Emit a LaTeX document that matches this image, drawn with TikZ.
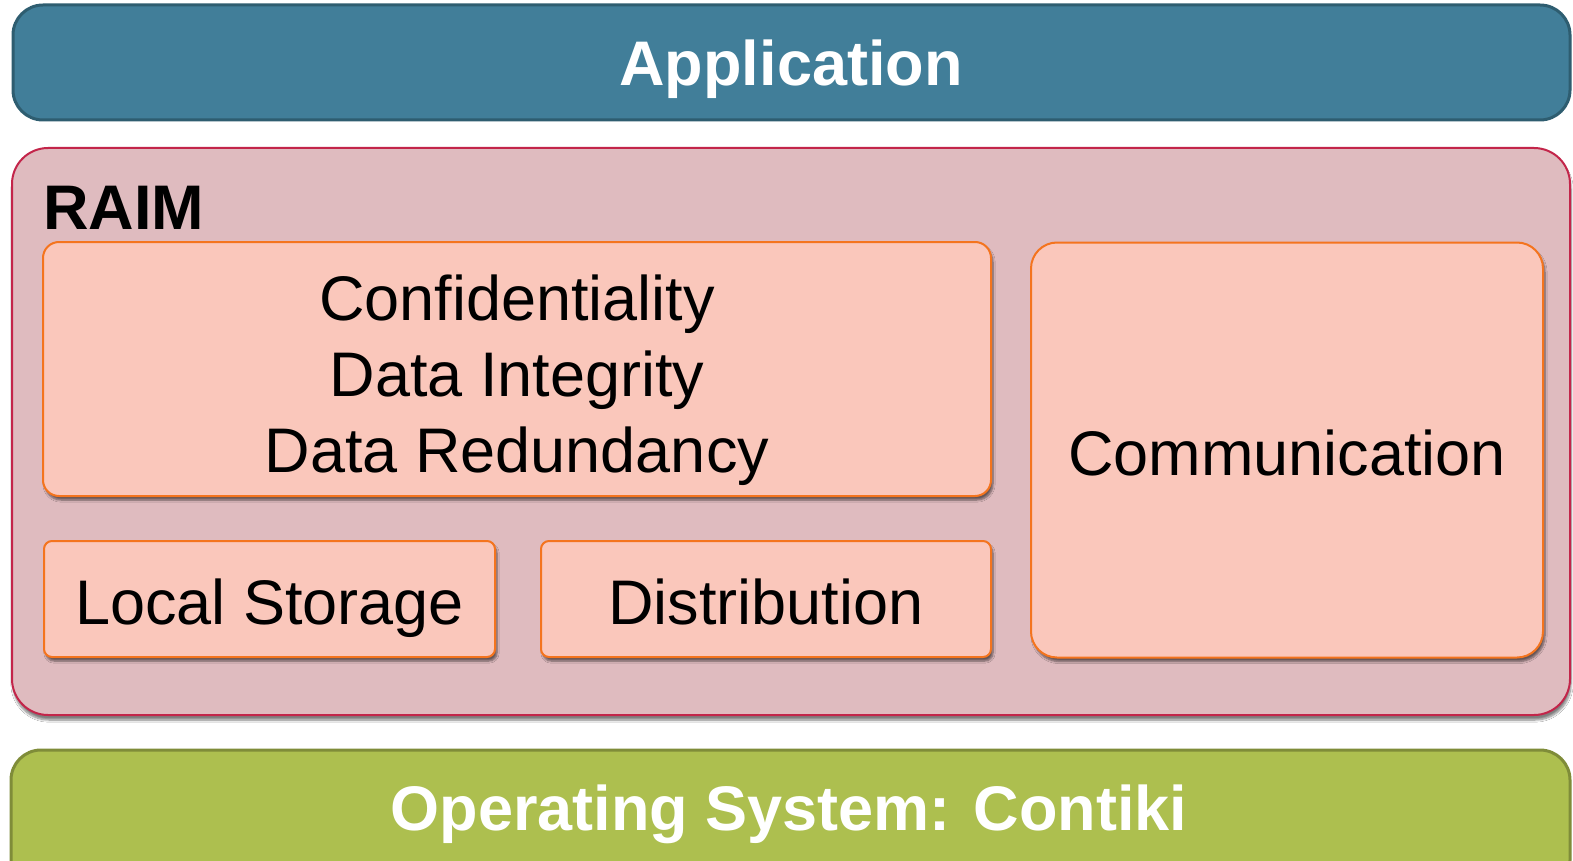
\documentclass[tikz,border=0pt]{standalone}
\usepackage{fontspec}
\setmainfont{Liberation Sans}
\usetikzlibrary{shadows.blur}

\definecolor{appfill}{HTML}{417E99}
\definecolor{appline}{HTML}{2E5D70}
\definecolor{raimfill}{HTML}{DFBBBF}
\definecolor{raimline}{HTML}{C3254A}
\definecolor{modfill}{HTML}{FAC7BB}
\definecolor{modline}{HTML}{F4741E}
\definecolor{osfill}{HTML}{ADBF4F}
\definecolor{osline}{HTML}{7F8C39}

\tikzset{
  layer/.style={rectangle, inner sep=0pt, outer sep=0pt},
  appbox/.style={layer, fill=appfill, draw=appline, line width=3pt, rounded corners=30pt},
  raimbox/.style={layer, fill=raimfill, draw=raimline, line width=2pt, rounded corners=36pt,
    blur shadow={shadow xshift=1pt, shadow yshift=-5pt, shadow blur steps=8, shadow opacity=50}},
  osbox/.style={layer, fill=osfill, draw=osline, line width=3pt, rounded corners=30pt},
  modbox/.style={layer, fill=modfill, draw=modline, line width=2pt,
    blur shadow={shadow xshift=2pt, shadow yshift=-4pt, shadow blur steps=6, shadow opacity=55}},
  bigtext/.style={font=\fontsize{63}{76}\selectfont, inner sep=0pt, anchor=base, align=center},
  boldwhite/.style={bigtext, font=\fontsize{63}{76}\selectfont\bfseries, text=white},
}

\begin{document}
\begin{tikzpicture}[x=1pt, y=-1pt]
  \clip (0,0) rectangle (1573,861);
  \fill[white] (0,0) rectangle (1573,861);

  % application layer
  \node[appbox, minimum width=1557pt, minimum height=115pt] (app) at (791.5,62.5) {};
  \node[boldwhite] (apptext) at (791,86) {Application};

  % middleware container
  \node[raimbox, minimum width=1558pt, minimum height=567pt] (raim) at (791,431.5) {};
  \node[bigtext, font=\fontsize{63}{76}\selectfont\bfseries, anchor=base west] (raimtext) at (43,229) {RAIM};

  % modules inside the container (base anchor of a multi-line node is its last line)
  \node[modbox, rounded corners=16pt, minimum width=948pt, minimum height=254pt] (sec) at (517,369) {};
  \node[bigtext] (sectext) at (517,472) {Confidentiality\\Data Integrity\\Data Redundancy};

  \node[modbox, rounded corners=8pt, minimum width=451pt, minimum height=116pt] (store) at (269.5,599) {};
  \node[bigtext] (storetext) at (269.5,624) {Local Storage};

  \node[modbox, rounded corners=8pt, minimum width=450pt, minimum height=116pt] (dist) at (766,599) {};
  \node[bigtext] (disttext) at (766,624) {Distribution};

  \node[modbox, rounded corners=26pt, minimum width=512pt, minimum height=415pt] (comm) at (1287,450) {};
  \node[bigtext] (commtext) at (1287,475) {Communication};

  % operating system layer
  \node[osbox, minimum width=1559pt, minimum height=140pt] (os) at (790.5,820) {};
  \node[boldwhite] (ostext) at (789,830) {Operating System: Contiki};
\end{tikzpicture}
\end{document}
